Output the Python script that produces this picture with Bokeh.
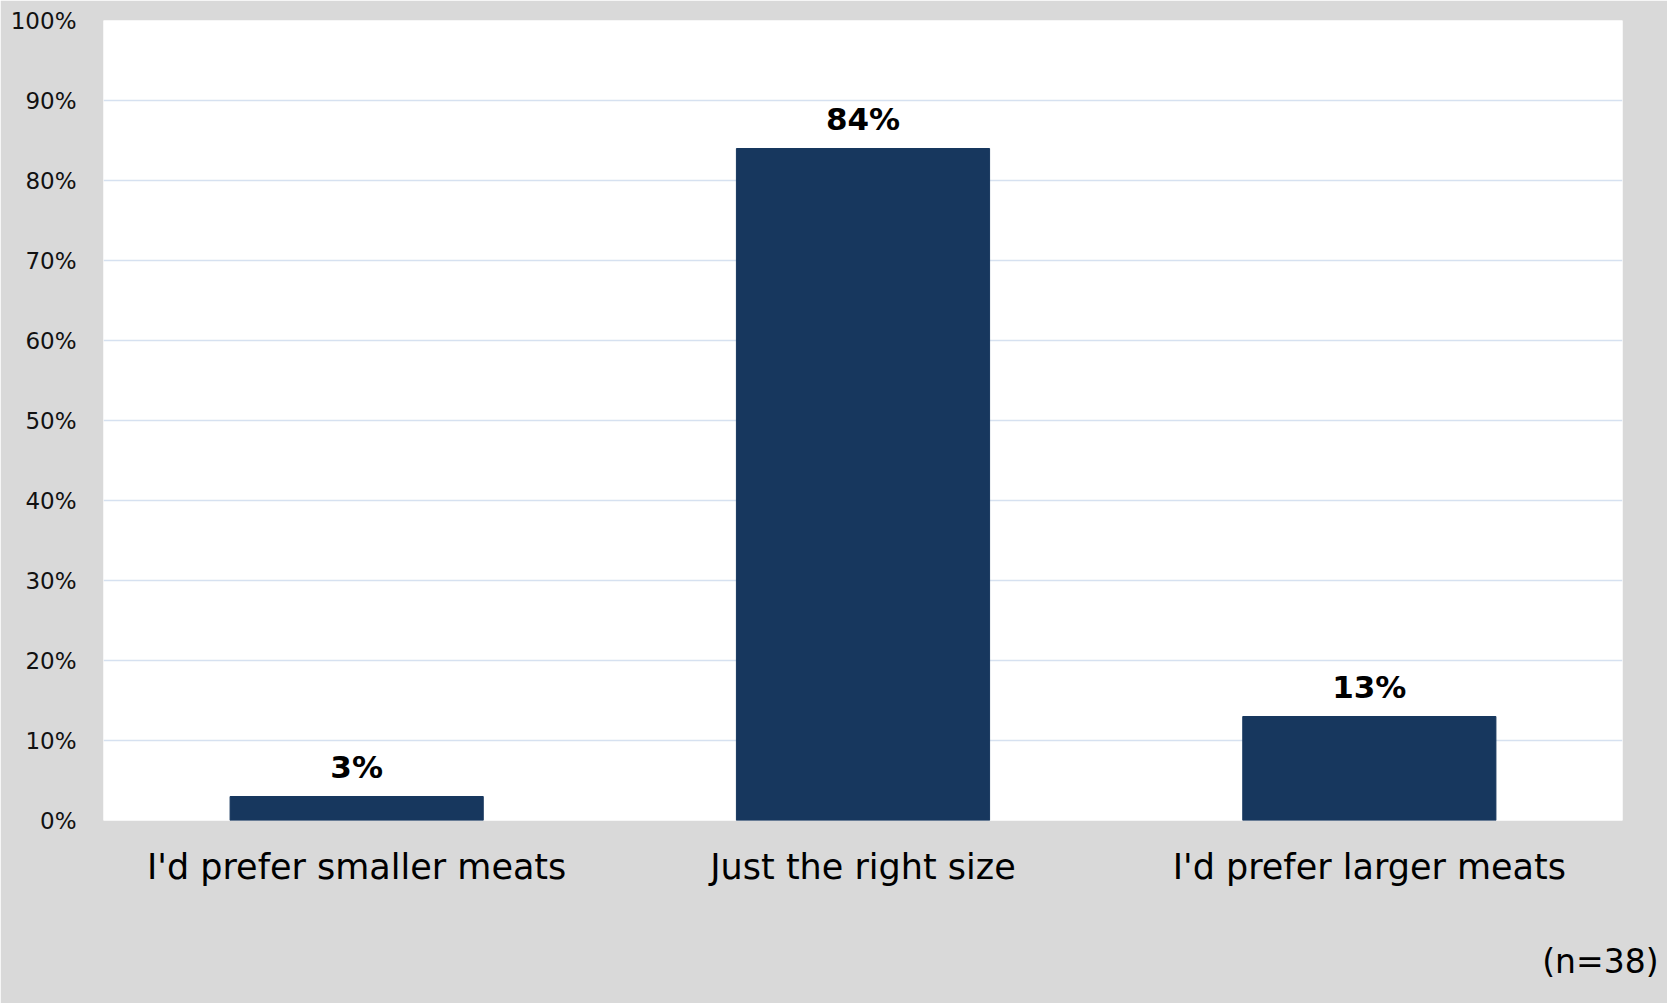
from bokeh.plotting import figure
from bokeh.models import ColumnDataSource, LabelSet, Title, NumeralTickFormatter, FixedTicker
from bokeh.embed import file_html
from bokeh.resources import INLINE
from bokeh.core.properties import value

categories = ["I'd prefer smaller meats", "Just the right size", "I'd prefer larger meats"]
shares = [0.03, 0.84, 0.13]
labels = ["3%", "84%", "13%"]
y_ticks = [0.0, 0.1, 0.2, 0.3, 0.4, 0.5, 0.6, 0.7, 0.8, 0.9, 1.0]
note = "(n=38)"

FONT = "DejaVu Sans"
BAR = "#17375E"
GRID = "#D6E1F0"
BG = "#D9D9D9"

src = ColumnDataSource(dict(cat=categories, share=shares, label=labels))

p = figure(x_range=categories, y_range=(0, 1), frame_width=1519, frame_height=800,
           min_border_left=103, min_border_right=45, min_border_top=20, min_border_bottom=183,
           output_backend="svg", toolbar_location=None, tools="")
p.border_fill_color = BG
p.background_fill_color = "white"
p.outline_line_color = None

p.vbar(x="cat", top="share", width=0.5, source=src, fill_color=BAR, line_color=BAR)
p.add_layout(LabelSet(x="cat", y="share", text="label", source=src, text_align="center",
                      text_baseline="alphabetic", y_offset=19, text_font=value(FONT),
                      text_font_size="31px", text_font_style="bold", text_color="black"))

p.yaxis.ticker = FixedTicker(ticks=y_ticks)
p.yaxis.formatter = NumeralTickFormatter(format="0%")
p.yaxis.axis_line_color = None
p.yaxis.major_tick_line_color = None
p.yaxis.minor_tick_line_color = None
p.yaxis.major_label_text_font = FONT
p.yaxis.major_label_text_font_size = "23px"
p.yaxis.major_label_text_color = "#111111"
p.yaxis.major_label_standoff = 21

p.xaxis.axis_line_color = None
p.xaxis.major_tick_line_color = None
p.xaxis.major_label_text_font = FONT
p.xaxis.major_label_text_font_size = "35px"
p.xaxis.major_label_text_color = "black"
p.xaxis.major_label_standoff = 20

p.xgrid.grid_line_color = None
p.ygrid.grid_line_color = GRID
p.ygrid.grid_line_width = 1.5

p.add_layout(Title(text=note, align="right", offset=-36, standoff=100, text_font=FONT,
                   text_font_size="33px", text_font_style="normal", text_color="black"), "below")

open("out.html", "w").write(file_html(p, INLINE))
